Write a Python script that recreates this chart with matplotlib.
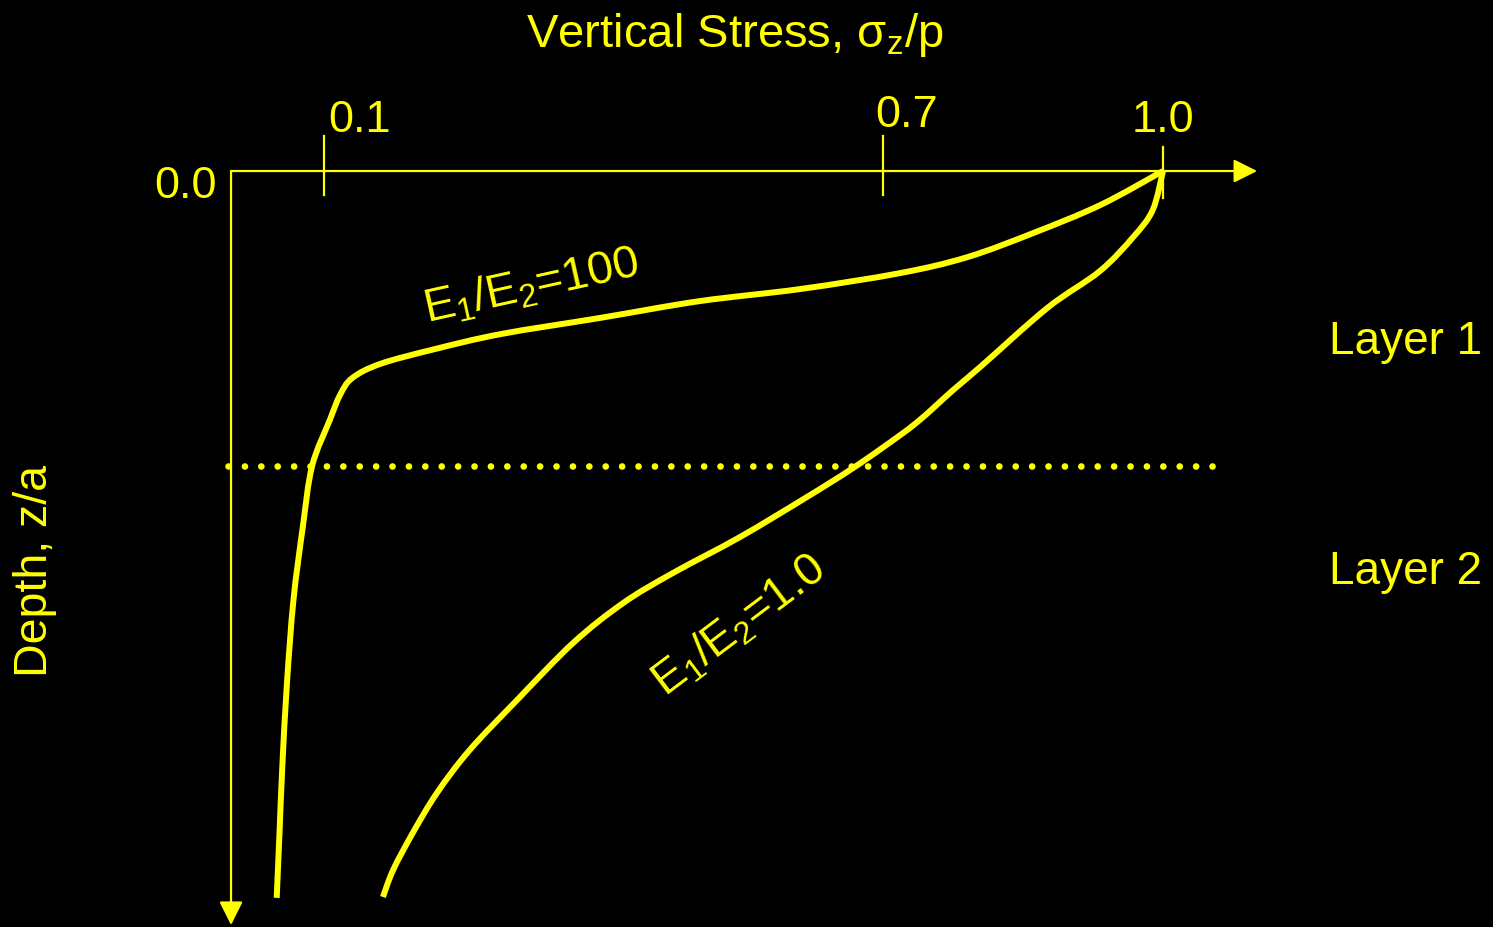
import numpy as np
import matplotlib.pyplot as plt
from matplotlib.path import Path
from matplotlib.patches import PathPatch

YELLOW = "#FFFF00"

# stress sigma_z/p (x) and depth z/a (y, interface at 1.0)
stress_e100 = [1.0, 0.933, 0.861, 0.790, 0.718, 0.611, 0.503, 0.396, 0.289, 0.217,
               0.160, 0.130, 0.117, 0.106, 0.087, 0.077, 0.067, 0.060, 0.055,
               0.052, 0.049]
depth_e100 = [0.0, 0.115, 0.210, 0.292, 0.346, 0.400, 0.441, 0.498, 0.553, 0.605,
              0.654, 0.702, 0.759, 0.844, 1.0, 1.207, 1.454, 1.736, 2.020,
              2.244, 2.464]

stress_e1 = [1.0, 0.989, 0.968, 0.932, 0.876, 0.804, 0.775, 0.736, 0.700, 0.664, 0.618,
             0.546, 0.474, 0.421, 0.367, 0.307, 0.256, 0.221, 0.195, 0.174, 0.163]
depth_e1 = [0.0, 0.132, 0.224, 0.340, 0.464, 0.664, 0.742, 0.852, 0.936, 1.014, 1.105,
            1.241, 1.363, 1.464, 1.600, 1.793, 1.963, 2.108, 2.244, 2.369, 2.461]

tick_values = [0.1, 0.7, 1.0]
tick_labels = ["0.1", "0.7", "1.0"]
interface_depth = 1.0

plt.rcParams["font.family"] = ["Liberation Sans", "DejaVu Sans"]
plt.rcParams["mathtext.fontset"] = "custom"
plt.rcParams["mathtext.rm"] = "Liberation Sans"
plt.rcParams["mathtext.it"] = "Liberation Sans"
plt.rcParams["mathtext.bf"] = "Liberation Sans"


def smooth_path(xs, ys):
    # Catmull-Rom through the points, drawn as cubic Bezier segments
    pts = np.column_stack([xs, ys])
    verts = [pts[0]]
    codes = [Path.MOVETO]
    n = len(pts)
    for i in range(n - 1):
        p0 = pts[max(i - 1, 0)]
        p1 = pts[i]
        p2 = pts[i + 1]
        p3 = pts[min(i + 2, n - 1)]
        c1 = p1 + (p2 - p0) / 6.0
        c2 = p2 - (p3 - p1) / 6.0
        verts += [c1, c2, p2]
        codes += [Path.CURVE4] * 3
    return Path(verts, codes)


fig = plt.figure(figsize=(14.93, 9.27), dpi=100, facecolor="black")
ax = fig.add_axes([0, 0, 1, 1], facecolor="black")
ax.set_xlim(-0.2479, 1.3541)
ax.set_ylim(2.5627, -0.5797)
ax.axis("off")

# axes with arrows
ax.annotate("", xy=(1.101, 0), xytext=(0, 0),
            arrowprops=dict(arrowstyle="-|>", color=YELLOW, lw=1.6,
                            mutation_scale=36, shrinkA=0, shrinkB=0))
ax.annotate("", xy=(0, 2.556), xytext=(0, 0),
            arrowprops=dict(arrowstyle="-|>", color=YELLOW, lw=1.6,
                            mutation_scale=36, shrinkA=0, shrinkB=0))

# ticks
for v in tick_values:
    top, bot = (-0.08, 0.09) if v == 1.0 else (-0.12, 0.08)
    ax.plot([v, v], [top, bot], color=YELLOW, lw=1.6)

ax.text(0.104, -0.132, tick_labels[0], color=YELLOW, fontsize=32.5, ha="left", va="baseline")
ax.text(0.691, -0.149, tick_labels[1], color=YELLOW, fontsize=32.5, ha="left", va="baseline")
ax.text(1.0, -0.132, tick_labels[2], color=YELLOW, fontsize=32.5, ha="center", va="baseline")
ax.text(-0.015, 0.092, "0.0", color=YELLOW, fontsize=32.5, ha="right", va="baseline")

# interface
ax.plot([-0.003, 1.07], [interface_depth, interface_depth], color=YELLOW, lw=4.8,
        linestyle=(0, (0.01, 2.45)), dash_capstyle="round")

# curves
for xs, ys in [(stress_e100, depth_e100), (stress_e1, depth_e1)]:
    ax.add_patch(PathPatch(smooth_path(xs, ys), facecolor="none", edgecolor=YELLOW,
                           lw=4.3, joinstyle="round", capstyle="butt"))

ax.text(0.210, 0.515, r"E$_1$/E$_2$=100", color=YELLOW, fontsize=33.5, rotation=12.5,
        rotation_mode="anchor", ha="left", va="baseline")
ax.text(0.466, 1.785, r"E$_1$/E$_2$=1.0", color=YELLOW, fontsize=33, rotation=37,
        rotation_mode="anchor", ha="left", va="baseline")

ax.text(0.541, -0.420, r"Vertical Stress, σ$_\mathrm{z}$/p", color=YELLOW, fontsize=34,
        ha="center", va="baseline")
ax.text(-0.210, 1.356, "Depth, z/a", color=YELLOW, fontsize=33.5, rotation=90,
        ha="center", va="center")
ax.text(1.178, 0.580, "Layer 1", color=YELLOW, fontsize=33, ha="left", va="center")
ax.text(1.178, 1.359, "Layer 2", color=YELLOW, fontsize=33, ha="left", va="center")

fig.savefig("out.png", dpi=100, facecolor="black")
